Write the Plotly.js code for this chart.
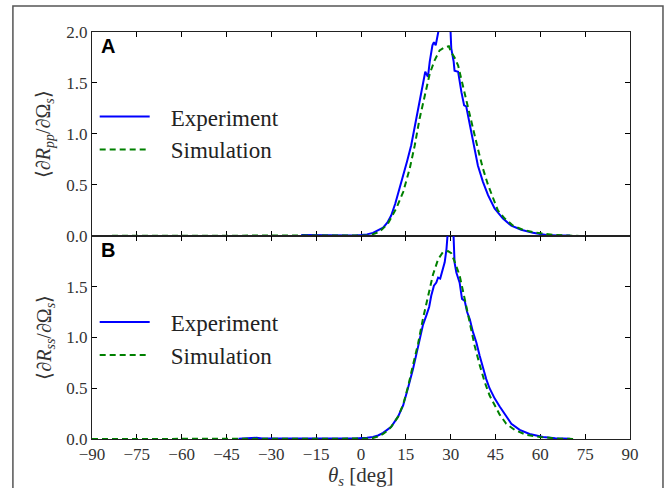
<!DOCTYPE html>
<html>
<head>
<meta charset="utf-8">
<script src="https://cdn.plot.ly/plotly-3.0.1.min.js"></script>
<style>html,body{margin:0;padding:0;background:#fff;}#chart{width:672px;height:488px;}</style>
</head>
<body>
<div id="chart"></div>
<script>
// ---- data ----
var seriesNames = ["Experiment", "Simulation"];
var panelLabels = ["A", "B"];
var xTickVals = [-90, -75, -60, -45, -30, -15, 0, 15, 30, 45, 60, 75, 90];
var xTickText = ["\u221290", "\u221275", "\u221260", "\u221245", "\u221230", "\u221215", "0", "15", "30", "45", "60", "75", "90"];
var yTickValsA = [0, 0.5, 1.0, 1.5, 2.0];
var yTickTextA = ["0.0", "0.5", "1.0", "1.5", "2.0"];
var yTickValsB = [0, 0.5, 1.0, 1.5];
var yTickTextB = ["0.0", "0.5", "1.0", "1.5"];

// Panel A: experiment
var thetaExpA = [-20, -17, -14, -11, -8, -5, -2, 0, 2, 4, 5.5, 7.4, 8.8, 10.1, 11.5, 12.9, 14.2, 15.4, 16.8, 18.3, 19.6, 20.5, 21.5, 22.4, 23.0, 23.9, 24.4, 25.0, 25.8, 26.5, 27.5, 28.5, 29.5, 29.9, 30.2, 31.0, 31.3, 32.5, 33.6, 34.5, 35.2, 36.4, 37.7, 39.1, 40.8, 42.5, 44.7, 47.5, 50.3, 53.6, 57.5, 62.0, 66, 70];
var expA = [0.01, 0.008, 0.01, 0.006, 0.008, 0.006, 0.005, 0.008, 0.015, 0.03, 0.05, 0.08, 0.13, 0.2, 0.32, 0.46, 0.6, 0.73, 0.89, 1.12, 1.31, 1.44, 1.61, 1.56, 1.71, 1.87, 1.90, 1.87, 1.98, 2.1, 2.3, 2.4, 2.1, 2.05, 1.84, 1.71, 1.62, 1.61, 1.41, 1.28, 1.27, 1.08, 0.89, 0.69, 0.53, 0.40, 0.27, 0.17, 0.10, 0.06, 0.03, 0.01, 0.005, 0.003];
// Panel A: simulation
var thetaSimA = [-90, -60, -30, 0, 2.9, 6.2, 9.0, 11.8, 14.1, 16.3, 18.0, 19.6, 21.3, 23.0, 24.6, 26.3, 28.0, 29.4, 30.2, 31.3, 32.5, 33.6, 34.7, 35.8, 36.9, 38.0, 39.4, 40.8, 42.5, 44.2, 45.8, 48.1, 50.9, 54.2, 58.7, 64.2, 68, 73];
var simA = [0, 0, 0, 0, 0.005, 0.04, 0.12, 0.27, 0.43, 0.66, 0.89, 1.15, 1.38, 1.59, 1.72, 1.82, 1.85, 1.86, 1.80, 1.75, 1.67, 1.54, 1.41, 1.25, 1.12, 0.99, 0.82, 0.66, 0.50, 0.37, 0.25, 0.17, 0.10, 0.06, 0.03, 0.01, 0.004, 0];

// Panel B: experiment
var thetaExpB = [-41, -38, -35, -33, -28, -22, -16, -10, -5, -2, 0, 2, 4, 5.7, 7.4, 8.8, 10.1, 12.4, 14.1, 15.7, 17.4, 19.1, 20.7, 21.9, 22.8, 23.5, 24.4, 25.2, 25.8, 26.5, 27.2, 28.0, 28.6, 29.0, 29.5, 30.5, 30.9, 31.3, 31.9, 33.0, 33.8, 34.7, 35.5, 36.4, 37.5, 38.6, 39.7, 40.8, 41.9, 43.0, 44.7, 46.4, 48.1, 50.3, 53.1, 56.4, 60.9, 65, 70];
var expB = [0.003, 0.004, 0.012, 0.004, 0.003, 0.004, 0.003, 0.004, 0.004, 0.006, 0.008, 0.012, 0.02, 0.035, 0.06, 0.09, 0.12, 0.22, 0.33, 0.50, 0.69, 0.91, 1.12, 1.22, 1.30, 1.41, 1.51, 1.54, 1.59, 1.58, 1.66, 1.74, 1.87, 2.1, 2.6, 2.6, 2.05, 1.74, 1.64, 1.54, 1.38, 1.36, 1.25, 1.18, 1.05, 0.95, 0.82, 0.69, 0.59, 0.50, 0.40, 0.32, 0.24, 0.15, 0.09, 0.05, 0.02, 0.008, 0.003];
// Panel B: simulation
var thetaSimB = [-90, -60, -30, 0, 2, 4, 5.7, 7.4, 8.8, 10.1, 12.4, 14.1, 15.7, 17.4, 19.1, 20.7, 22.4, 24.1, 25.8, 27.4, 29.1, 30.2, 31.3, 33.0, 34.7, 36.4, 38.0, 39.7, 41.4, 43.0, 44.7, 46.4, 48.6, 51.4, 55.3, 59.8, 66.5, 72];
var simB = [0, 0, 0, 0, 0.004, 0.01, 0.025, 0.05, 0.08, 0.12, 0.22, 0.34, 0.51, 0.73, 0.94, 1.18, 1.41, 1.62, 1.77, 1.84, 1.85, 1.83, 1.75, 1.61, 1.38, 1.15, 0.92, 0.73, 0.56, 0.43, 0.33, 0.24, 0.15, 0.09, 0.04, 0.02, 0.003, 0];

// ---- styling ----
var serif = "Liberation Serif, Times New Roman, serif";
var blue = "#0000ff", green = "#008000";
var split = 0.499;
var gap = "\u2002\u2009";

function expTrace(x, y, xa, ya, lg) {
  return {x: x, y: y, xaxis: xa, yaxis: ya, legend: lg, type: "scatter", mode: "lines",
    name: gap + seriesNames[0], line: {color: blue, width: 2}, hoverinfo: "skip"};
}
function simTrace(x, y, xa, ya, lg) {
  return {x: x, y: y, xaxis: xa, yaxis: ya, legend: lg, type: "scatter", mode: "lines",
    name: gap + seriesNames[1], line: {color: green, width: 2, dash: "6px,4px"}, hoverinfo: "skip"};
}

var data = [
  expTrace(thetaExpA, expA, "x", "y", "legend"),
  simTrace(thetaSimA, simA, "x", "y", "legend"),
  expTrace(thetaExpB, expB, "x2", "y2", "legend2"),
  simTrace(thetaSimB, simB, "x2", "y2", "legend2")
];

var tickFont = {family: serif, size: 17, color: "#333"};
function xAxis(anchor, labels) {
  return {anchor: anchor, domain: [0, 1], range: [-90, 90], tickvals: xTickVals, ticktext: xTickText,
    showticklabels: labels, ticks: "inside", ticklen: 5, tickcolor: "#000", tickwidth: 1,
    showline: true, linecolor: "#222", linewidth: 1, mirror: "ticks", showgrid: false, zeroline: false,
    tickfont: tickFont, layer: "below traces", fixedrange: true};
}
function yAxis(anchor, dom, vals, txt) {
  return {anchor: anchor, domain: dom, range: [0, 2.0], tickvals: vals, ticktext: txt,
    ticks: "inside", ticklen: 5, tickcolor: "#000", tickwidth: 1,
    showline: true, linecolor: "#222", linewidth: 1, mirror: "ticks", showgrid: false, zeroline: false,
    tickfont: tickFont, layer: "below traces", fixedrange: true};
}

var legendBase = {bgcolor: "rgba(0,0,0,0)", borderwidth: 0, font: {family: serif, size: 23, color: "#222"},
  xanchor: "left", yanchor: "top", itemwidth: 50, tracegroupgap: 0};

var labelFont = {family: "Liberation Sans, Arial, sans-serif", size: 20, color: "#000"};
var layout = {
  width: 672, height: 488,
  margin: {l: 92, r: 42, t: 32, b: 49},
  paper_bgcolor: "#fff", plot_bgcolor: "#fff",
  showlegend: true,
  xaxis: xAxis("y", false),
  yaxis: yAxis("x", [split, 1], yTickValsA, yTickTextA),
  xaxis2: xAxis("y2", true),
  yaxis2: yAxis("x2", [0, split], yTickValsB, yTickTextB),
  legend: Object.assign({}, legendBase, {x: 0.005, y: 0.845}),
  legend2: Object.assign({}, legendBase, {x: 0.005, y: 0.34}),
  shapes: [
    {type: "rect", xref: "paper", yref: "paper", x0: -0.147, x1: 1.0613, y0: -0.2, y1: 1.0639,
     line: {color: "#555", width: 1.5}, fillcolor: "rgba(0,0,0,0)", layer: "below"}
  ],
  annotations: [
    {text: "<b>" + panelLabels[0] + "</b>", xref: "paper", yref: "paper", x: 0.013, y: 0.997,
     xanchor: "left", yanchor: "top", showarrow: false, font: labelFont},
    {text: "<b>" + panelLabels[1] + "</b>", xref: "paper", yref: "paper", x: 0.013, y: split - 0.003,
     xanchor: "left", yanchor: "top", showarrow: false, font: labelFont},
    {text: "\u27e8\u2202<i>R</i><sub><i>pp</i></sub>/\u2202\u03a9<sub><i>s</i></sub>\u27e9", xref: "paper", yref: "paper",
     x: -0.087, y: (1 + split) / 2, textangle: -90, xanchor: "center", yanchor: "middle", showarrow: false,
     font: {family: serif, size: 20, color: "#333"}},
    {text: "\u27e8\u2202<i>R</i><sub><i>ss</i></sub>/\u2202\u03a9<sub><i>s</i></sub>\u27e9", xref: "paper", yref: "paper",
     x: -0.087, y: split / 2, textangle: -90, xanchor: "center", yanchor: "middle", showarrow: false,
     font: {family: serif, size: 20, color: "#333"}},
    {text: "<i>\u03b8</i><sub><i>s</i></sub> [deg]", xref: "paper", yref: "paper", x: 0.5, y: -0.09,
     xanchor: "center", yanchor: "middle", showarrow: false, font: {family: serif, size: 21, color: "#333"}}
  ]
};

Plotly.newPlot("chart", data, layout, {displayModeBar: false, staticPlot: true});
</script>
</body>
</html>
